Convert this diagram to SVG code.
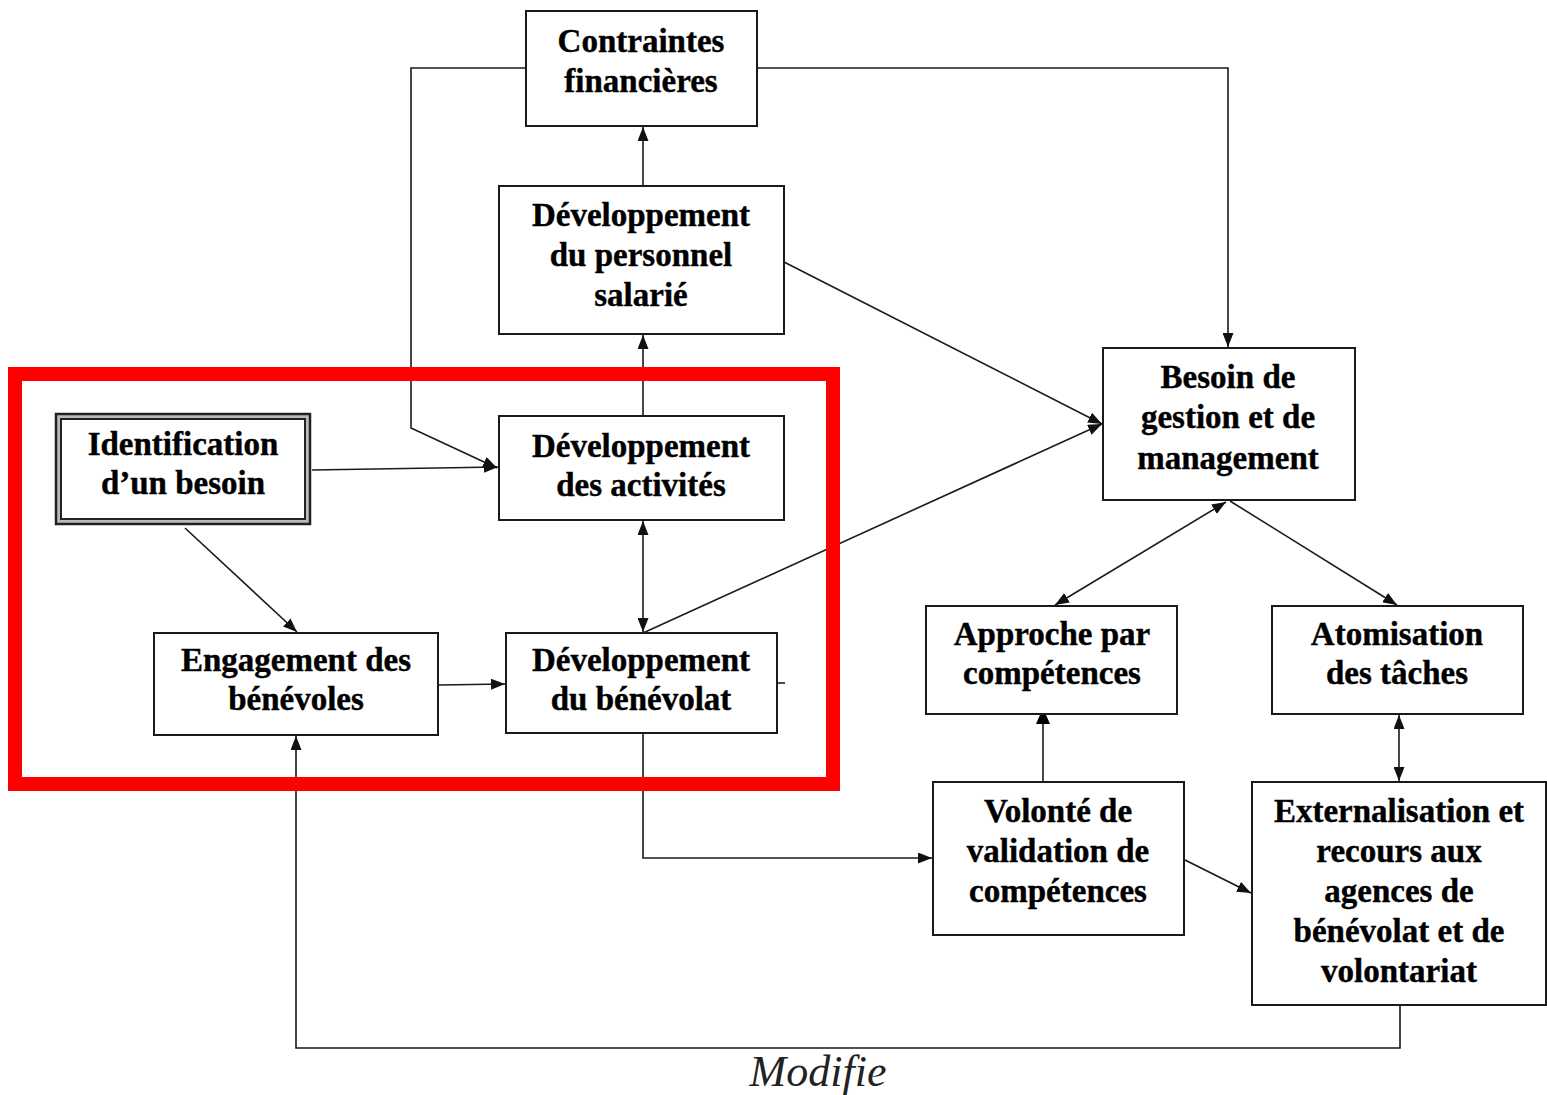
<svg xmlns="http://www.w3.org/2000/svg" width="1547" height="1095" viewBox="0 0 1547 1095">
<style>
.box{fill:#fff;stroke:#1a1a1a;stroke-width:2}
.t{font-family:"Liberation Serif","Times New Roman",serif;font-weight:bold;font-size:33px;fill:#000;text-anchor:middle;stroke:#000;stroke-width:0.4}
.c{fill:none;stroke:#1a1a1a;stroke-width:1.6}
.m{font-family:"Liberation Serif","Times New Roman",serif;font-style:italic;font-size:44px;fill:#222;text-anchor:middle}
</style>
<defs>
<marker id="ah" viewBox="0 0 14 11" refX="14" refY="5.5" markerWidth="14" markerHeight="11" markerUnits="userSpaceOnUse" orient="auto-start-reverse">
<path d="M0,0 L14,5.5 L0,11 z" fill="#111"/>
</marker>
<marker id="ahb" viewBox="0 0 16 14" refX="16" refY="7" markerWidth="16" markerHeight="14" markerUnits="userSpaceOnUse" orient="auto">
<path d="M0,0 L16,7 L0,14 z" fill="#000"/>
</marker>
</defs>
<rect x="0" y="0" width="1547" height="1095" fill="#fff"/>
<g id="connectors">
<polyline class="c" points="526,68 411,68 411,428 497,468" marker-end="url(#ah)"/>
<polyline class="c" points="757,68 1228,68 1228,347" marker-end="url(#ah)"/>
<line class="c" x1="643" y1="186" x2="643" y2="127" marker-end="url(#ah)"/>
<line class="c" x1="643" y1="416" x2="643" y2="335" marker-end="url(#ah)"/>
<line class="c" x1="312" y1="470" x2="498" y2="467" marker-end="url(#ah)"/>
<line class="c" x1="185" y1="528" x2="297" y2="632" marker-end="url(#ah)"/>
<line class="c" x1="438" y1="685" x2="505" y2="684" marker-end="url(#ah)"/>
<line class="c" x1="643" y1="521" x2="643" y2="632" marker-start="url(#ah)" marker-end="url(#ah)"/>
<line class="c" x1="643" y1="633" x2="1102" y2="424" marker-end="url(#ah)"/>
<line class="c" x1="784" y1="262" x2="1102" y2="424" marker-end="url(#ah)"/>
<line class="c" x1="777" y1="683" x2="785" y2="683"/>
<polyline class="c" points="643,733 643,858 932,858" marker-end="url(#ah)"/>
<line class="c" x1="1043" y1="782" x2="1043" y2="708" stroke-width="3" marker-end="url(#ahb)"/>
<line class="c" x1="1226" y1="502" x2="1055" y2="605" marker-start="url(#ah)" marker-end="url(#ah)"/>
<line class="c" x1="1230" y1="501" x2="1397" y2="605" marker-end="url(#ah)"/>
<line class="c" x1="1399" y1="715" x2="1399" y2="781" marker-start="url(#ah)" marker-end="url(#ah)"/>
<line class="c" x1="1185" y1="860" x2="1251" y2="893" marker-end="url(#ah)"/>
<polyline class="c" points="1400,1005 1400,1048 296,1048 296,736" marker-end="url(#ah)"/>
</g>
<g id="contraintes">
<rect class="box" x="526" y="11" width="231" height="115"/>
<text class="t" x="641" y="52">Contraintes</text>
<text class="t" x="641" y="92">financières</text>
</g>
<g id="dev-personnel">
<rect class="box" x="499" y="186" width="285" height="148"/>
<text class="t" x="641" y="226">Développement</text>
<text class="t" x="641" y="266">du personnel</text>
<text class="t" x="641" y="306">salarié</text>
</g>
<g id="identification">
<rect x="56" y="414" width="254" height="110" fill="#bbb" stroke="#222" stroke-width="2.5"/>
<rect x="61" y="419" width="244" height="100" fill="#fff" stroke="#222" stroke-width="2"/>
<text class="t" x="183" y="455">Identification</text>
<text class="t" x="183" y="494">d’un besoin</text>
</g>
<g id="dev-activites">
<rect class="box" x="499" y="416" width="285" height="104"/>
<text class="t" x="641" y="457">Développement</text>
<text class="t" x="641" y="496">des activités</text>
</g>
<g id="engagement">
<rect class="box" x="154" y="633" width="284" height="102"/>
<text class="t" x="296" y="671">Engagement des</text>
<text class="t" x="296" y="710">bénévoles</text>
</g>
<g id="dev-benevolat">
<rect class="box" x="506" y="633" width="271" height="100"/>
<text class="t" x="641" y="671">Développement</text>
<text class="t" x="641" y="710">du bénévolat</text>
</g>
<g id="besoin">
<rect class="box" x="1103" y="348" width="252" height="152"/>
<text class="t" x="1228" y="388">Besoin de</text>
<text class="t" x="1228" y="428">gestion et de</text>
<text class="t" x="1228" y="469">management</text>
</g>
<g id="approche">
<rect class="box" x="926" y="606" width="251" height="108"/>
<text class="t" x="1052" y="645">Approche par</text>
<text class="t" x="1052" y="684">compétences</text>
</g>
<g id="atomisation">
<rect class="box" x="1272" y="606" width="251" height="108"/>
<text class="t" x="1397" y="645">Atomisation</text>
<text class="t" x="1397" y="684">des tâches</text>
</g>
<g id="volonte">
<rect class="box" x="933" y="782" width="251" height="153"/>
<text class="t" x="1058" y="822">Volonté de</text>
<text class="t" x="1058" y="862">validation de</text>
<text class="t" x="1058" y="902">compétences</text>
</g>
<g id="externalisation">
<rect class="box" x="1252" y="782" width="294" height="223"/>
<text class="t" x="1399" y="822">Externalisation et</text>
<text class="t" x="1399" y="862">recours aux</text>
<text class="t" x="1399" y="902">agences de</text>
<text class="t" x="1399" y="942">bénévolat et de</text>
<text class="t" x="1399" y="982">volontariat</text>
</g>
<text class="m" x="818" y="1086">Modifie</text>
<rect x="15" y="374" width="818" height="410" fill="none" stroke="#f00" stroke-width="14"/>
</svg>
